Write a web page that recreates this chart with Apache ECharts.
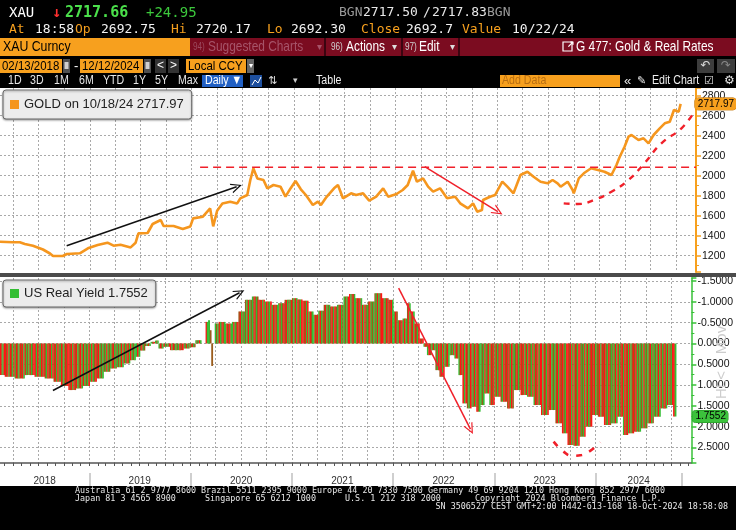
<!DOCTYPE html>
<html><head><meta charset="utf-8">
<script src="https://cdn.jsdelivr.net/npm/echarts@6/dist/echarts.min.js"></script>
<style>html,body{margin:0;padding:0;background:#000;}#c{width:736px;height:530px;}</style>
</head><body><div id="c"></div>
<script>
// ---------------- DATA ----------------
const goldDates = ['2018-02-13','2018-03-31','2018-04-25','2018-05-13','2018-06-11','2018-07-17','2018-08-11','2018-08-22','2018-09-26','2018-10-11','2018-11-26','2018-12-25',
'2019-01-29','2019-03-05','2019-03-27','2019-04-21','2019-05-27','2019-06-14','2019-06-24','2019-07-27','2019-08-14','2019-09-12','2019-09-22','2019-10-28','2019-11-30','2019-12-27',
'2020-01-06','2020-02-10','2020-03-07','2020-03-18','2020-04-01','2020-04-20','2020-05-18','2020-06-12','2020-06-23','2020-07-18','2020-07-29','2020-08-09','2020-08-23','2020-09-14','2020-09-28','2020-10-20','2020-11-14','2020-12-02','2020-12-20',
'2021-01-07','2021-01-26','2021-02-13','2021-03-10','2021-03-28','2021-04-08','2021-04-26','2021-05-25','2021-06-08','2021-06-26','2021-07-25','2021-08-12','2021-09-06','2021-09-28','2021-10-23','2021-11-17','2021-12-05',
'2022-01-04','2022-01-26','2022-02-13','2022-03-04','2022-03-18','2022-04-09','2022-04-27','2022-05-15','2022-06-09','2022-07-04','2022-08-02','2022-08-20','2022-09-17','2022-10-05','2022-10-20','2022-11-06','2022-11-10','2022-12-05','2022-12-23',
'2023-01-18','2023-02-05','2023-02-27','2023-03-24','2023-04-18','2023-05-10','2023-06-04','2023-06-29','2023-07-17','2023-08-04','2023-08-15','2023-09-09','2023-09-27','2023-10-01','2023-10-19','2023-11-06','2023-12-02','2023-12-27',
'2024-01-19','2024-02-13','2024-03-02','2024-03-13','2024-03-31','2024-04-14','2024-04-25','2024-05-20','2024-06-07','2024-06-25','2024-07-13','2024-08-04','2024-08-22','2024-09-09','2024-09-24','2024-10-11','2024-10-18'];
const goldValues = [1340,1335,1335,1318,1300,1262,1222,1197,1197,1217,1224,1274,
1307,1330,1300,1310,1283,1330,1423,1427,1517,1557,1497,1497,1467,1493,
1573,1590,1673,1493,1650,1723,1740,1723,1773,1807,1957,2073,1973,1957,1873,1907,1890,1790,1873,
1947,1864,1807,1707,1740,1707,1780,1874,1907,1774,1824,1807,1824,1750,1790,1874,1790,
1817,1857,1907,2050,1940,1974,1890,1840,1874,1774,1790,1724,1674,1724,1640,1657,1757,1790,1807,
1940,1890,1824,2007,2040,1990,1940,1924,1957,1924,1890,1940,1857,1824,1974,2024,2074,2057,
2040,2007,2107,2184,2290,2390,2407,2357,2374,2324,2407,2474,2524,2540,2657,2640,2718];

const ryDates = ['2018-02-13','2018-03-19','2018-04-25','2018-05-30','2018-07-06','2018-08-11','2018-09-08','2018-10-03','2018-11-01','2018-11-26','2018-12-21',
'2019-01-15','2019-02-09','2019-03-06','2019-03-28','2019-04-22','2019-05-17','2019-06-08','2019-06-26','2019-07-10','2019-08-01','2019-08-19','2019-09-02','2019-09-13','2019-10-08','2019-10-30','2019-11-24','2019-12-19',
'2020-01-06','2020-01-31','2020-02-18','2020-03-02','2020-03-07','2020-03-14','2020-03-18','2020-03-25','2020-04-01','2020-04-22','2020-05-17','2020-06-11','2020-07-03','2020-07-28','2020-08-22','2020-09-12','2020-10-07','2020-11-01','2020-11-23','2020-12-18',
'2021-01-15','2021-01-26','2021-02-20','2021-03-10','2021-03-28','2021-04-15','2021-05-06','2021-05-31','2021-06-25','2021-07-17','2021-08-04','2021-08-29','2021-09-23','2021-10-11','2021-11-09','2021-12-04','2021-12-26',
'2022-01-08','2022-01-26','2022-02-13','2022-02-27','2022-03-10','2022-03-28','2022-04-15','2022-04-26','2022-05-10','2022-05-28','2022-06-08','2022-06-26','2022-07-14','2022-08-01','2022-08-19','2022-08-30','2022-09-17','2022-10-01','2022-10-19','2022-11-06','2022-11-17','2022-12-05','2022-12-23',
'2023-01-11','2023-02-05','2023-02-27','2023-03-24','2023-04-18','2023-05-10','2023-06-04','2023-07-03','2023-07-28','2023-08-22','2023-09-13','2023-10-01','2023-10-26','2023-11-13','2023-12-08','2023-12-31',
'2024-01-19','2024-02-13','2024-03-09','2024-03-31','2024-04-18','2024-05-06','2024-05-31','2024-06-25','2024-07-16','2024-08-10','2024-09-04','2024-09-26','2024-10-18'];
const ryValues = [0.76,0.80,0.84,0.76,0.80,0.84,0.92,1.02,1.12,1.08,1.02,
0.92,0.84,0.68,0.60,0.57,0.48,0.40,0.32,0.17,0.06,-0.04,-0.07,0.12,0.08,0.16,0.16,0.12,
0.09,-0.08,0.0,-0.52,-0.56,-0.32,0.54,0.0,-0.48,-0.52,-0.48,-0.52,-0.77,-1.05,-1.13,-1.05,-1.01,-0.93,-0.97,-1.05,
-1.09,-1.06,-1.03,-0.77,-0.69,-0.79,-0.93,-0.89,-0.93,-1.13,-1.19,-1.09,-0.93,-1.01,-1.21,-1.09,-1.05,
-0.77,-0.56,-0.60,-0.97,-0.77,-0.48,-0.12,0.08,0.28,0.16,0.64,0.80,0.56,0.28,0.36,0.76,1.44,1.56,1.52,1.64,1.48,1.20,1.48,
1.28,1.40,1.56,1.12,1.24,1.28,1.48,1.72,1.60,1.92,2.16,2.44,2.46,2.24,2.00,1.72,
1.76,1.96,1.92,1.76,2.20,2.16,2.12,2.04,1.92,1.76,1.56,1.48,1.7552];

// annotations
const blackArrowTop = [['2018-10-10', 1300], ['2020-06-10', 1890]];
const blackArrowBottom = [['2018-08-23', 1.13], ['2020-06-26', -1.22]];
const redArrowTop = [['2022-04-15', 2090], ['2023-01-02', 1640]];
const redArrowBottom = [['2022-01-21', -1.33], ['2022-10-07', 2.06]];
const resistanceLine = [['2020-01-31', 2084], ['2024-12-12', 2084]];
const cupTopDates = ['2023-08-26','2023-10-15','2023-12-12','2024-02-13','2024-04-14','2024-06-10','2024-08-10','2024-10-21','2024-12-03'];
const cupTopValues = [1723,1717,1757,1840,1957,2124,2324,2474,2627];
const cupBottomDates = ['2023-08-03','2023-09-08','2023-10-08','2023-11-13','2023-12-13','2024-01-19'];
const cupBottomValues = [2.36,2.60,2.70,2.68,2.58,2.38];

// header sparkline
const sparkWhite = [5,7,6,9,8,11,10,15,14];
const sparkGreen = [14,17,22,27,30,33,29,35,37,40];

// labels / ticks
const yearLabels = ['2018','2019','2020','2021','2022','2023','2024'];
const yearLabelDates = ['2018-07-24','2019-07-02','2020-07-02','2021-07-02','2022-07-02','2023-07-02','2024-06-05'];
const yearSeparators = ['2019-01-01','2020-01-01','2021-01-01','2022-01-01','2023-01-01','2024-01-01','2024-11-07'];
const xMinDate = '2018-02-13', xMaxDate = '2024-12-12';
const goldLast = 2717.97, ryLast = 1.7552;
const goldLegend = 'GOLD on 10/18/24 2717.97';
const ryLegend = 'US Real Yield 1.7552';

// ---------------- BUILD ----------------
const P = s => Date.UTC(+s.slice(0, 4), +s.slice(5, 7) - 1, +s.slice(8, 10));
const xMin = P(xMinDate), xMax = P(xMaxDate);
const quarterTicks = [], monthTicks = [];
for (let y = 2018; y <= 2024; y++) for (let m = 0; m < 12; m++) {
  const t = Date.UTC(y, m, 1);
  if (t <= xMin || t >= xMax) continue;
  monthTicks.push(t);
  if (m % 3 === 0) quarterTicks.push(t);
}
const yearLabelT = yearLabelDates.map(P);
const yearSepT = yearSeparators.map(P);
const goldData = goldDates.map((d, i) => [P(d), goldValues[i]]);
const ryT = ryDates.map(P);
const ryBars = ryT.map((t, i) => {
  const s = i === 0 ? t : (ryT[i - 1] + t) / 2;
  const e = i === ryT.length - 1 ? t : (t + ryT[i + 1]) / 2;
  const dir = i === 0 ? 1 : (ryValues[i] >= ryValues[i - 1] ? 1 : -1);
  return [s, e, ryValues[i], dir];
});
const pts = arr => arr.map(p => [P(p[0]), p[1]]);
const RED = '#FF1414', GRN = '#33BE33', BRN = '#9A5C1C';
const palUp = [RED, BRN, GRN, RED, BRN, RED, GRN];
const palDn = [GRN, BRN, RED, GRN, BRN, GRN, RED];

const chevron = 'path://M0,10 L5,0 L10,10 L8.7,10 L5,2.6 L1.3,10 Z';
function arrowMarkLine(p, color) {
  const q = pts(p);
  return {
    silent: true, animation: false, symbol: ['none', chevron], symbolSize: [10, 11],
    label: {show: false}, emphasis: {disabled: true},
    lineStyle: {color: color, width: 1.5, type: 'solid'},
    data: [[{coord: q[0]}, {coord: q[1]}]]
  };
}

const ORANGE = '#F7A01E';
const MONO = '"DejaVu Sans Mono","Liberation Mono",monospace';
const SANS = '"Liberation Sans",Arial,sans-serif';
const gridLine = {show: true, lineStyle: {color: '#a9a9a9', width: 1, type: [2, 2]}};

// ---------------- GRAPHICS (chrome) ----------------
const G = [];
let zc = 100;
function R(x, y, w, h, fill) { G.push({type: 'rect', silent: true, z: zc++, shape: {x: x, y: y, width: w, height: h}, style: {fill: fill}}); }
function T(x, y, text, fill, font, align, sx) {
  G.push({type: 'text', silent: true, z: zc++, x: x, y: y, scaleX: sx || 1,
    style: {text: text, fill: fill, font: font, textAlign: align || 'left', textVerticalAlign: 'middle', verticalAlign: 'middle'}});
}
const N = (x, y, text, fill, size, align, sx) => T(x, y, text, fill, size + 'px ' + SANS, align, sx || 0.82);

R(0, 0, 736, 88, '#000');
R(0, 486, 736, 44, '#000');
R(0, 273, 736, 4, '#4b4b4b');
// row 1
T(9, 13, 'XAU', '#fff', '14px ' + MONO);
T(52, 13, '↓', '#FF3030', 'bold 15px ' + MONO);
T(65, 13, '2717.66', '#4BE04B', 'bold 15px ' + MONO);
T(146, 13, '+24.95', '#3CC83C', '14px ' + MONO);
T(339, 13, 'BGN', '#9a9a9a', '13px ' + MONO);
T(363, 13, '2717.50', '#e8e8e8', '13px ' + MONO);
T(423, 13, '/', '#e8e8e8', '13px ' + MONO);
T(432, 13, '2717.83', '#e8e8e8', '13px ' + MONO);
T(487, 13, 'BGN', '#9a9a9a', '13px ' + MONO);
// row 2
[[9,'At',1],[35,'18:58',0],[75,'Op',1],[101,'2692.75',0],[171,'Hi',1],[196,'2720.17',0],[267,'Lo',1],[291,'2692.30',0],[361,'Close',1],[406,'2692.7',0],[462,'Value',1],[512,'10/22/24',0]]
  .forEach(a => T(a[0], 30, a[1], a[2] ? ORANGE : '#f2f2f2', '13px ' + MONO));
// row 3
R(0, 38, 190, 18, ORANGE);
R(190, 38, 546, 18, '#7B0C20');
R(324, 38, 2, 18, '#3a0510'); R(401, 38, 2, 18, '#3a0510'); R(458, 38, 2, 18, '#3a0510');
N(3, 47, 'XAU Curncy', '#000', 15);
N(193, 47, '94)', '#9C4A5E', 10);
N(208, 47, 'Suggested Charts', '#A65469', 14.5);
N(317, 47, '▾', '#A65469', 10, 'left', 1);
N(331, 47, '96)', '#d0d0d0', 10);
N(346, 47, 'Actions', '#fff', 14.5);
N(392, 47, '▾', '#ddd', 10, 'left', 1);
N(405, 47, '97)', '#d0d0d0', 10);
N(419, 47, 'Edit', '#fff', 14.5);
N(450, 47, '▾', '#ddd', 10, 'left', 1);
G.push({type: 'rect', silent: true, z: zc++, shape: {x: 563, y: 42, width: 9, height: 9}, style: {fill: 'none', stroke: '#fff', lineWidth: 1.2}});
T(567, 45, '↗', '#fff', 'bold 9px ' + SANS);
N(576, 47, 'G 477: Gold & Real Rates', '#fff', 14.5);
// row 4
R(0, 59, 62, 14, ORANGE); N(2, 66, '02/13/2018', '#000', 13, 'left', 0.88);
R(63, 59, 7, 14, '#505050'); R(64.5, 62, 4, 7, '#cfcfcf');
N(74, 66, '-', '#fff', 13, 'left', 1);
R(80, 59, 63, 14, ORANGE); N(82, 66, '12/12/2024', '#000', 13, 'left', 0.88);
R(144, 59, 7, 14, '#505050'); R(145.5, 62, 4, 7, '#cfcfcf');
R(155, 59, 11, 14, '#333'); N(160.5, 66, '<', '#fff', 12, 'center', 1);
R(168, 59, 11, 14, '#333'); N(173.5, 66, '>', '#fff', 12, 'center', 1);
R(186, 59, 60, 14, ORANGE); N(188, 66, 'Local CCY', '#000', 13, 'left', 0.88);
R(247, 59, 7, 14, '#666'); N(250.5, 66, '▾', '#fff', 8, 'center', 1);
R(697, 59, 17, 14, '#3d3d3d'); T(705.5, 66, '↶', '#ddd', '12px "DejaVu Sans"', 'center');
R(717, 59, 18, 14, '#3d3d3d'); T(726, 66, '↷', '#888', '12px "DejaVu Sans"', 'center');
// row 5
[[8,'1D'],[30,'3D'],[54,'1M'],[79,'6M'],[103,'YTD'],[133,'1Y'],[155,'5Y'],[178,'Max']].forEach(a => N(a[0], 81, a[1], '#e6e6e6', 12.5, 'left', 0.85));
R(202, 75, 41, 12, '#2160C4'); N(205, 81, 'Daily ▼', '#fff', 12.5, 'left', 0.85);
R(250, 75, 12, 12, '#1d4f9e');
G.push({type: 'polyline', silent: true, z: zc++, shape: {points: [[252, 85], [255, 80], [258, 83], [261, 77]]}, style: {stroke: '#fff', lineWidth: 1, fill: 'none'}});
T(268, 81, '⇅', '#ddd', '11px "DejaVu Sans"');
N(293, 81, '▾', '#ccc', 9, 'left', 1);
N(316, 81, 'Table', '#f0f0f0', 12.5, 'left', 0.85);
R(500, 75, 120, 12, ORANGE); N(502, 81, 'Add Data', '#B86E12', 12.5, 'left', 0.85);
N(624, 81, '«', '#e6e6e6', 13, 'left', 1);
T(637, 81, '✎', '#e6e6e6', '11px "DejaVu Sans"');
N(652, 81, 'Edit Chart', '#f0f0f0', 12.5, 'left', 0.85);
T(704, 81, '☑', '#e6e6e6', '11px "DejaVu Sans"');
T(724, 81, '⚙', '#e6e6e6', '12px "DejaVu Sans"');
// footer
const FF = '8.4px ' + MONO;
T(75, 491, 'Australia 61 2 9777 8600 Brazil 5511 2395 9000 Europe 44 20 7330 7500 Germany 49 69 9204 1210 Hong Kong 852 2977 6000', '#e8e8e8', FF);
T(75, 499, 'Japan 81 3 4565 8900', '#e8e8e8', FF);
T(205, 499, 'Singapore 65 6212 1000', '#e8e8e8', FF);
T(345, 499, 'U.S. 1 212 318 2000', '#e8e8e8', FF);
T(475, 499, 'Copyright 2024 Bloomberg Finance L.P.', '#e8e8e8', FF);
T(728, 507, 'SN 3506527 CEST GMT+2:00 H442-613-168 18-Oct-2024 18:58:08', '#e8e8e8', FF, 'right');
// faint watermark
G.push({type: 'text', silent: true, z: zc++, x: 722, y: 340, rotation: Math.PI / 2, style: {text: 'Mov', fill: '#cdcdcd', font: '15px ' + SANS, textAlign: 'center', textVerticalAlign: 'middle', verticalAlign: 'middle'}});
G.push({type: 'text', silent: true, z: zc++, x: 722, y: 385, rotation: Math.PI / 2, style: {text: 'HL<', fill: '#cdcdcd', font: '15px ' + SANS, textAlign: 'center', textVerticalAlign: 'middle', verticalAlign: 'middle'}});

// ---------------- OPTION ----------------
const yLabel = {color: '#111', fontSize: 10.5, fontFamily: SANS, margin: 6, showMinLabel: false, showMaxLabel: false};
const hiddenX = (gi, ticks) => ({type: 'value', gridIndex: gi, min: xMin, max: xMax, axisLine: {show: false}, axisLabel: {show: false},
  axisTick: {show: false, customValues: ticks}, splitLine: gridLine});
const legendBase = {selectedMode: false, icon: 'rect', itemWidth: 9, itemHeight: 9, itemGap: 5,
  backgroundColor: '#ECECEC', borderColor: '#6a6a6a', borderWidth: 1, borderRadius: 3,
  shadowBlur: 2, shadowColor: 'rgba(0,0,0,0.35)', shadowOffsetY: 1,
  textStyle: {fontSize: 13, color: '#222', fontFamily: SANS}};
const option = {
  backgroundColor: '#fff',
  animation: false,
  axisPointer: {triggerOn: 'none'},
  grid: [
    {left: 0, right: 40, top: 88, height: 184},
    {left: 0, right: 39, top: 278, height: 185},
    {left: 214, top: 5, width: 108, height: 13}
  ],
  legend: [
    Object.assign({data: ['GOLD'], left: 3, top: 90, formatter: () => goldLegend, padding: [8, 8, 8, 7]}, legendBase),
    Object.assign({data: ['US Real Yield'], left: 3, top: 280, formatter: () => ryLegend, padding: [7, 8, 7, 7]}, legendBase)
  ],
  xAxis: [
    hiddenX(0, quarterTicks),
    hiddenX(1, quarterTicks),
    {type: 'value', gridIndex: 1, position: 'bottom', min: xMin, max: xMax,
     axisLine: {show: true, lineStyle: {color: '#555', width: 1.5}}, axisLabel: {show: false},
     axisTick: {show: true, customValues: monthTicks, length: 3, lineStyle: {color: '#555'}}, splitLine: {show: false}},
    {type: 'value', gridIndex: 1, position: 'bottom', offset: 10, min: xMin, max: xMax,
     axisLine: {show: false},
     axisTick: {show: true, customValues: yearSepT, length: 13, lineStyle: {color: '#cfcfcf', width: 2}},
     axisLabel: {show: true, customValues: yearLabelT, margin: 3, fontSize: 10, color: '#333', fontFamily: SANS,
       formatter: v => { const k = yearLabelT.findIndex(t => Math.abs(t - v) < 864e5); return k >= 0 ? yearLabels[k] : ''; }},
     splitLine: {show: false}},
    {type: 'category', gridIndex: 2, show: false, boundaryGap: false, data: ['0','1','2','3','4','5','6','7','8','9','10','11','12','13','14','15','16','17']}
  ],
  yAxis: [
    {type: 'value', gridIndex: 0, position: 'right', min: 1037, max: 2877, splitNumber: 9,
     axisLine: {show: true, lineStyle: {color: ORANGE, width: 2}},
     axisTick: {show: true, length: 5, lineStyle: {color: ORANGE, width: 1.5}},
     minorTick: {show: true, splitNumber: 2, length: 3, lineStyle: {color: ORANGE}},
     axisLabel: Object.assign({formatter: v => v.toFixed(0)}, yLabel),
     splitLine: Object.assign({showMinLine: false, showMaxLine: false}, gridLine),
     axisPointer: {show: true, status: 'show', value: goldLast, triggerTooltip: false, type: 'line', lineStyle: {opacity: 0},
       label: {show: true, formatter: p => Number(p.value).toFixed(2), backgroundColor: ORANGE, color: '#000', fontSize: 10,
         fontFamily: SANS, padding: [1, 2, 1, 3], margin: 1, borderColor: '#c07000', borderWidth: 0.5}}},
    {type: 'value', gridIndex: 1, position: 'right', inverse: true, min: -1.575, max: 2.873, splitNumber: 9,
     axisLine: {show: true, lineStyle: {color: '#38C038', width: 1.5}},
     axisTick: {show: true, length: 5, lineStyle: {color: '#38C038', width: 1.5}},
     minorTick: {show: true, splitNumber: 2, length: 3, lineStyle: {color: '#38C038'}},
     axisLabel: Object.assign({formatter: v => v.toFixed(4)}, yLabel),
     splitLine: Object.assign({showMinLine: false, showMaxLine: false}, gridLine),
     axisPointer: {show: true, status: 'show', value: ryLast, triggerTooltip: false, type: 'line', lineStyle: {opacity: 0},
       label: {show: true, formatter: p => Number(p.value).toFixed(4), backgroundColor: '#3CC23C', color: '#000', fontSize: 10,
         fontFamily: SANS, padding: [1, 2, 1, 3], margin: 1, borderColor: '#1f8a1f', borderWidth: 0.5}}},
    {type: 'value', gridIndex: 2, show: false, min: 0, max: 42}
  ],
  series: [
    {name: 'GOLD', type: 'line', xAxisIndex: 0, yAxisIndex: 0, data: goldData, showSymbol: false, symbol: 'none', z: 3,
     color: '#F5961E', lineStyle: {color: '#F5961E', width: 2.6}, silent: true},
    {name: 'US Real Yield', type: 'custom', xAxisIndex: 1, yAxisIndex: 1, data: ryBars, color: '#33BE33', silent: true, z: 2,
     encode: {x: [0, 1], y: 2},
     renderItem: function (params, api) {
       const i = params.dataIndex;
       const a = api.coord([api.value(0), 0]);
       const b = api.coord([api.value(1), api.value(2)]);
       const x0 = a[0], w = Math.max(b[0] - a[0], 0.6);
       const y0 = Math.min(a[1], b[1]), h = Math.abs(b[1] - a[1]);
       const pal = api.value(3) > 0 ? palUp : palDn;
       const n = Math.max(1, Math.round(w / 1.3));
       const sw = w / n;
       const ch = [];
       for (let j = 0; j < n; j++) {
         ch.push({type: 'rect', shape: {x: x0 + j * sw, y: y0, width: sw + 0.3, height: h}, style: {fill: pal[(i * 3 + j) % pal.length]}});
       }
       return {type: 'group', children: ch};
     }},
    // annotations top
    {type: 'line', xAxisIndex: 0, yAxisIndex: 0, data: [], z: 5, silent: true, markLine: arrowMarkLine(blackArrowTop, '#111')},
    {type: 'line', xAxisIndex: 0, yAxisIndex: 0, data: [], z: 5, silent: true, markLine: arrowMarkLine(redArrowTop, '#F0202A')},
    {type: 'line', xAxisIndex: 0, yAxisIndex: 0, data: pts(resistanceLine), z: 4, silent: true, symbol: 'none',
     lineStyle: {color: '#F0202A', width: 1.4, type: [8, 5]}},
    {type: 'line', xAxisIndex: 0, yAxisIndex: 0, data: cupTopDates.map((d, i) => [P(d), cupTopValues[i]]), z: 5, silent: true,
     symbol: 'none', smooth: 0.5, lineStyle: {color: '#F0202A', width: 2.4, type: [6, 6]}},
    // annotations bottom
    {type: 'line', xAxisIndex: 1, yAxisIndex: 1, data: [], z: 5, silent: true, markLine: arrowMarkLine(blackArrowBottom, '#111')},
    {type: 'line', xAxisIndex: 1, yAxisIndex: 1, data: [], z: 5, silent: true, markLine: arrowMarkLine(redArrowBottom, '#F0202A')},
    {type: 'line', xAxisIndex: 1, yAxisIndex: 1, data: cupBottomDates.map((d, i) => [P(d), cupBottomValues[i]]), z: 5, silent: true,
     symbol: 'none', smooth: 0.5, lineStyle: {color: '#F0202A', width: 2.6, type: [6, 8]}},
    // header sparkline
    {type: 'line', xAxisIndex: 4, yAxisIndex: 2, data: sparkWhite, symbol: 'none', silent: true,
     lineStyle: {color: '#e0e0e0', width: 1, type: [3, 1]}},
    {type: 'line', xAxisIndex: 4, yAxisIndex: 2, data: new Array(8).fill(null).concat(sparkGreen), symbol: 'none', silent: true,
     lineStyle: {color: '#2FCB2F', width: 1.2}}
  ],
  graphic: {elements: G}
};
const chart = echarts.init(document.getElementById('c'), null, {renderer: 'canvas'});
chart.setOption(option);
</script>
</body></html>
